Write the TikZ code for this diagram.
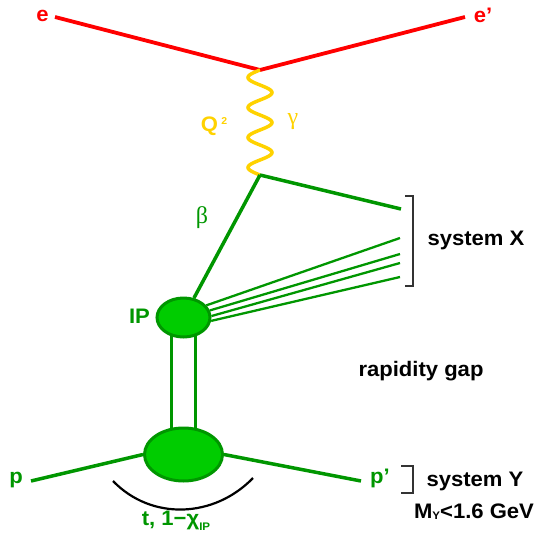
\documentclass[tikz,border=0pt]{standalone}
\usepackage{fontspec}
\setmainfont{Liberation Sans}[FakeStretch=1.05]
\newfontfamily\grk{Liberation Serif}
\usepackage{tikz}
\usetikzlibrary{
  positioning, shapes.geometric, backgrounds
}
\definecolor{dfred}{HTML}{FF0000}
\definecolor{dfgreen}{HTML}{009600}
\definecolor{dfblob}{HTML}{00CC00}
\definecolor{dfgold}{HTML}{FFD200}
\definecolor{dfgray}{HTML}{333333}

\begin{document}
\begin{tikzpicture}[
  x=1pt, y=-1pt,
  lbl/.style={text=#1, font=\fontsize{21}{24}\selectfont\bfseries, inner sep=0pt, anchor=base},
  grklbl/.style={text=#1, font=\fontsize{24}{26}\selectfont\grk, inner sep=0pt},
  blob/.style={ellipse, draw=dfgreen, fill=dfblob, line width=3pt, inner sep=0pt},
  eline/.style={draw=dfred, line width=3.8pt},
  gline/.style={draw=dfgreen, line width=3.5pt},
  jline/.style={draw=dfgreen, line width=2.3pt},
  photon/.style={draw=dfgold, line width=3.5pt},
  brk/.style={draw=dfgray, line width=1.6pt},
]
\useasboundingbox (0,0) rectangle (537,542);

% vertices and blobs
\coordinate (vtx) at (260,70);
\coordinate (vtxg) at (260,175);
\node[blob, minimum width=53pt, minimum height=39pt] (ip) at (183.5,317.5) {};
\node[blob, minimum width=78pt, minimum height=53pt] (pb) at (183.5,454.5) {};

% electron
\node[lbl=dfred] (e) at (42.5,21) {e};
\node[lbl=dfred] (ep) at (483,22) {e’};
\coordinate (ein) at (55,17);
\coordinate (eout) at (465,17);
\draw[eline] (ein) -- (vtx) -- (eout);

% photon, 3.5 waves from vtx down to vtxg
\draw[photon] (vtx) -- plot[domain=0:105, samples=141, smooth]
  ({260-12*sin(\x*12)}, {70+\x}) -- (vtxg);
\node[lbl=dfgold] (q2) at (214,131) {Q\,\raisebox{7pt}{\fontsize{10}{10}\selectfont 2}};
\node[grklbl=dfgold] (gam) at (293,122) {γ};

% system X
\coordinate (xtop) at (401,209);
\draw[gline] (vtxg) -- (xtop);
\draw[gline] (vtxg) -- (ip);
\node[grklbl=dfgreen] (beta) at (202,218) {β};
\foreach \a/\y [count=\i] in {28/238, 15/254, 3/263, -7/277} {
  \coordinate (jet\i) at (400,\y);
  \draw[jline] (ip.\a) -- (jet\i);
}
\draw[brk] (405,196) -- (413,196) -- (413,286) -- (405,286);
\node[lbl=black] (sysx) at (476,245) {system X};
\node[lbl=dfgreen] (iplbl) at (139.5,323) {IP};

\node[lbl=black] (gap) at (421,376) {rapidity gap};

% pomeron
\begin{scope}[on background layer]
  \draw[gline] ([xshift=-12pt]ip.center) -- ([xshift=-12pt]pb.center);
  \draw[gline] ([xshift=12pt]ip.center) -- ([xshift=12pt]pb.center);
\end{scope}

% proton
\coordinate (pin) at (31,481);
\coordinate (pout) at (361,481);
\draw[gline] (pin) -- (pb.west);
\draw[gline] (pb.east) -- (pout);
\node[lbl=dfgreen] (p) at (16,483) {p};
\node[lbl=dfgreen] (pp) at (380,483) {p’};
\draw[brk] (401,466) -- (413,466) -- (413,493) -- (401,493);
\node[lbl=black] (sysy) at (475,486) {system Y};
\node[lbl=black] (my) at (474,518) {M\raisebox{-1pt}{\fontsize{11}{11}\selectfont Y}<1.6 GeV};

% t
\draw[black, line width=2.2pt] (113,481) .. controls (151.7,521) and (214.3,518) .. (253,478);
\node[lbl=dfgreen] (tlbl) at (176,525) {t, 1−χ\raisebox{-5pt}{\fontsize{11}{11}\selectfont IP}};

\end{tikzpicture}
\end{document}
